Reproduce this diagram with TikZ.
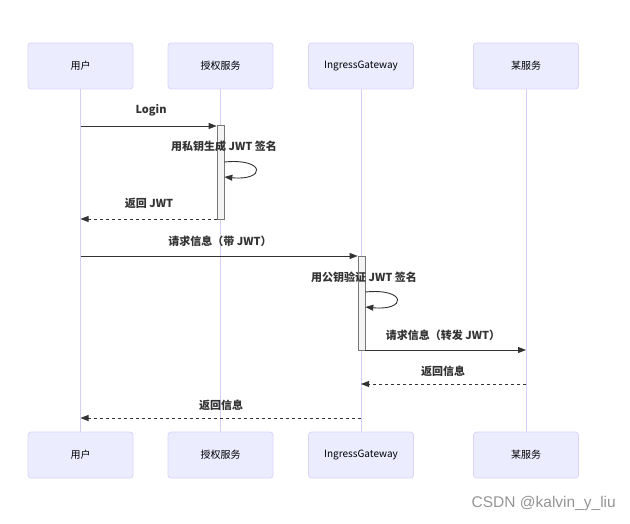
\documentclass[tikz,border=0pt]{standalone}
\usepackage{fontspec}
\setmainfont{Noto Sans CJK SC}
\newfontfamily\wmfont{Liberation Sans}
\usetikzlibrary{arrows.meta}
\definecolor{actfill}{HTML}{ECECFF}
\definecolor{actdraw}{HTML}{DCD4F8}
\definecolor{lifec}{HTML}{D6CCF4}
\definecolor{msgc}{HTML}{333333}
\definecolor{actvfill}{HTML}{F4F4F4}
\definecolor{actvdraw}{HTML}{777777}
\tikzset{
  actor/.style={draw=actdraw, fill=actfill, line width=0.8pt, rounded corners=3pt,
    minimum width=105pt, minimum height=46pt, inner sep=0pt, font=\fontsize{10}{12}\selectfont},
  life/.style={draw=lifec, line width=0.9pt},
  msg/.style={draw=msgc, line width=0.9pt, -{Triangle[length=8pt,width=6pt]}},
  ret/.style={msg, dash pattern=on 3pt off 3pt},
  lbl/.style={font=\fontsize{11}{13}\selectfont\bfseries, text=msgc, inner sep=0pt},
  activ/.style={draw=actvdraw, fill=actvfill, line width=0.7pt, minimum width=7pt, inner sep=0pt},
}
\begin{document}
\begin{tikzpicture}[x=1pt,y=-1pt]
\useasboundingbox (0,0) rectangle (630,524);
% top actors
\node[actor] (ut) at (80.5,66) {用户};
\node[actor] (at) at (220.5,66) {授权服务};
\node[actor] (gt) at (361,66) {IngressGateway};
\node[actor] (st) at (526,66) {某服务};
% bottom actors
\node[actor] (ub) at (80.5,455) {用户};
\node[actor] (ab) at (220.5,455) {授权服务};
\node[actor] (gb) at (361,455) {IngressGateway};
\node[actor] (sb) at (526,455) {某服务};
% lifelines
\draw[life] (ut.south) -- (ub.north);
\draw[life] (at.south) -- (ab.north);
\draw[life] (gt.south) -- (gb.north);
\draw[life] (st.south) -- (sb.north);
% activations
\node[activ, minimum height=94pt] (aa) at (220.5,172.5) {};
\node[activ, minimum height=94pt] (ga) at (361.5,303) {};
% message endpoints
\coordinate (u1) at (80.5,126);
\coordinate (u2) at (80.5,219);
\coordinate (u3) at (80.5,256);
\coordinate (u4) at (80.5,418);
\coordinate (s1) at (526,350);
\coordinate (s2) at (526,384);
\coordinate (g2) at (361,384);
\coordinate (g4) at (361,418);
\coordinate (aL1) at (aa.west |- u1);
\coordinate (aL2) at (aa.west |- u2);
\coordinate (aR1) at (aa.east |- 0,162);
\coordinate (aR2) at (aa.east |- 0,177);
\coordinate (gL1) at (ga.west |- u3);
\coordinate (gR1) at (ga.east |- 0,292);
\coordinate (gR2) at (ga.east |- 0,307);
\coordinate (gR3) at (ga.east |- s1);
% messages
\node[lbl] (l1) at (151,110) {Login};
\draw[msg] (u1) -- (aL1);
\node[lbl] (l2) at (224,146) {用私钥生成 JWT 签名};
\draw[msg] (aR1) .. controls (266,158) and (266,181) .. (aR2);
\node[lbl] (l3) at (149,203) {返回 JWT};
\draw[ret] (aL2) -- (u2);
\node[lbl] (l4) at (220,241) {请求信息（带 JWT）};
\draw[msg] (u3) -- (gL1);
\node[lbl] (l5) at (364,277) {用公钥验证 JWT 签名};
\draw[msg] (gR1) .. controls (407,288) and (407,311) .. (gR2);
\node[lbl] (l6) at (443,335) {请求信息（转发 JWT）};
\draw[msg] (gR3) -- (s1);
\node[lbl] (l7) at (443,371) {返回信息};
\draw[ret] (s2) -- (g2);
\node[lbl] (l8) at (221,405) {返回信息};
\draw[ret] (g4) -- (u4);
% watermark
\node[font=\wmfont\fontsize{15.5}{17}\selectfont, text=black!42, anchor=east, inner sep=0pt] (wm) at (616,503) {CSDN @kalvin\_y\_liu};
\end{tikzpicture}
\end{document}
